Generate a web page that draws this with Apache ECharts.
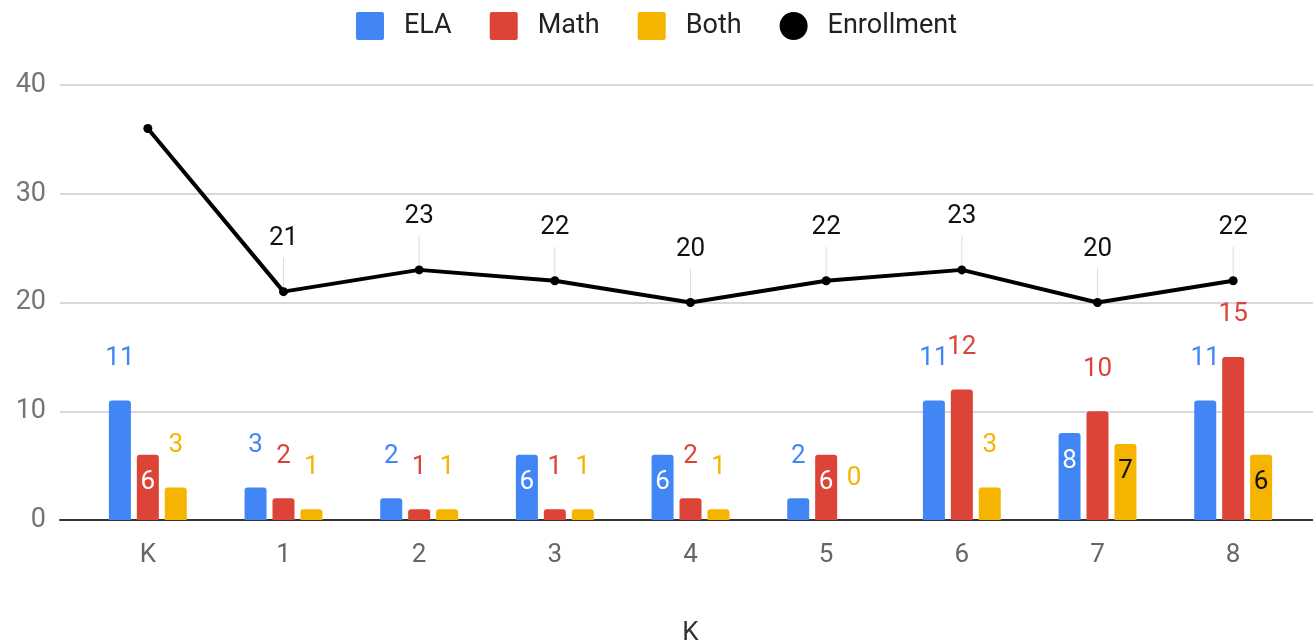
<!DOCTYPE html>
<html>
<head>
<meta charset="utf-8">
<script src="https://cdn.jsdelivr.net/npm/echarts@6/dist/echarts.min.js"></script>
<style>
  html, body { margin: 0; padding: 0; background: #fff; }
  #chart { width: 1313px; height: 642px; }
</style>
</head>
<body>
<div id="chart"></div>
<script>
const grades = ['K', '1', '2', '3', '4', '5', '6', '7', '8'];
const ela = [11, 3, 2, 6, 6, 2, 11, 8, 11];
const math = [6, 2, 1, 1, 2, 6, 12, 10, 15];
const both = [3, 1, 1, 1, 1, 0, 3, 7, 6];
const enrollment = [36, 21, 23, 22, 20, 22, 23, 20, 22];
const yTicks = [0, 10, 20, 30, 40];

const BLUE = '#4285f4', RED = '#db4437', YELLOW = '#f4b400';
const FONT = 'Roboto';
const FS = 26;
const SQUARE = 'path://M2,0H26A2,2 0 0 1 28,2V26A2,2 0 0 1 26,28H2A2,2 0 0 1 0,26V2A2,2 0 0 1 2,0Z';

// google puts mid-sized values inside the bar, the rest above it
function barData(values, color, insideColor) {
  return values.map(v => {
    const inside = v >= 6 && v <= 9;
    return {
      value: v,
      label: inside
        ? {position: 'insideTop', distance: 15, color: insideColor}
        : {position: 'top', distance: 29, color: color}
    };
  });
}

function barSeries(name, values, color, insideColor) {
  return {
    name: name,
    type: 'bar',
    xAxisIndex: 0,
    yAxisIndex: 0,
    barWidth: 22,
    barGap: '27%',
    itemStyle: {color: color, borderRadius: [3, 3, 0, 0]},
    label: {show: true, fontFamily: FONT, fontSize: FS},
    data: barData(values, color, insideColor)
  };
}

const chart = echarts.init(document.getElementById('chart'));
chart.setOption({
  textStyle: {fontFamily: FONT},
  animation: false,
  legend: {
    top: 7,
    left: 'center',
    itemWidth: 28,
    itemHeight: 28,
    itemGap: 38,
    textStyle: {fontFamily: FONT, fontSize: 27, color: '#222', padding: [0, 0, 0, 15]},
    data: [
      {name: 'ELA', icon: SQUARE},
      {name: 'Math', icon: SQUARE},
      {name: 'Both', icon: SQUARE},
      {name: 'Enrollment', icon: 'circle'}
    ]
  },
  grid: [
    {left: 80, right: 12, top: 85, bottom: 122, outerBoundsMode: 'none'},
    {left: 60, right: 0, top: 85, bottom: 122, outerBoundsMode: 'none'}
  ],
  xAxis: [
    {
      type: 'category',
      gridIndex: 0,
      data: grades,
      axisLine: {show: false},
      axisTick: {show: false},
      axisLabel: {fontFamily: FONT, fontSize: FS, color: '#666', margin: 22},
      name: 'K',
      nameLocation: 'middle',
      nameGap: 100,
      nameTextStyle: {fontFamily: FONT, fontSize: FS, color: '#333'}
    },
    {
      type: 'value',
      gridIndex: 1,
      min: 0,
      max: 1,
      axisLine: {show: true, onZero: true, lineStyle: {color: '#333', width: 2}},
      axisTick: {show: false},
      axisLabel: {show: false},
      splitLine: {show: false}
    }
  ],
  yAxis: [
    {
      type: 'value',
      gridIndex: 0,
      min: yTicks[0],
      max: yTicks[yTicks.length - 1],
      interval: 10,
      axisLabel: {show: false},
      splitLine: {show: false},
      axisLine: {show: false},
      axisTick: {show: false}
    },
    {
      type: 'value',
      gridIndex: 1,
      min: yTicks[0],
      max: yTicks[yTicks.length - 1],
      interval: 10,
      axisLabel: {fontFamily: FONT, fontSize: 27, color: '#757575', margin: 14},
      splitLine: {lineStyle: {color: '#cccccc', width: 1.5}},
      axisLine: {show: false},
      axisTick: {show: false}
    }
  ],
  series: [
    barSeries('ELA', ela, BLUE, '#fff'),
    barSeries('Math', math, RED, '#fff'),
    barSeries('Both', both, YELLOW, '#111'),
    {
      // thin leader lines from each enrollment label down to its point
      name: 'leader',
      type: 'custom',
      xAxisIndex: 0,
      yAxisIndex: 0,
      silent: true,
      z: 1,
      renderItem: (params, api) => {
        if (params.dataIndex === 0) return null;
        const p = api.coord([api.value(0), api.value(1)]);
        return {
          type: 'line',
          shape: {x1: p[0], y1: p[1] - 4, x2: p[0], y2: p[1] - 34},
          style: {stroke: '#dddddd', lineWidth: 1}
        };
      },
      data: enrollment.map((v, i) => [i, v])
    },
    {
      name: 'Enrollment',
      type: 'line',
      xAxisIndex: 0,
      yAxisIndex: 0,
      symbol: 'circle',
      symbolSize: 9,
      z: 5,
      itemStyle: {color: '#000'},
      lineStyle: {color: '#000', width: 4},
      label: {show: true, position: 'top', distance: 36, fontFamily: FONT, fontSize: FS, color: '#111'},
      data: enrollment.map((v, i) => i === 0 ? {value: v, label: {show: false}} : v)
    }
  ]
});
</script>
</body>
</html>
